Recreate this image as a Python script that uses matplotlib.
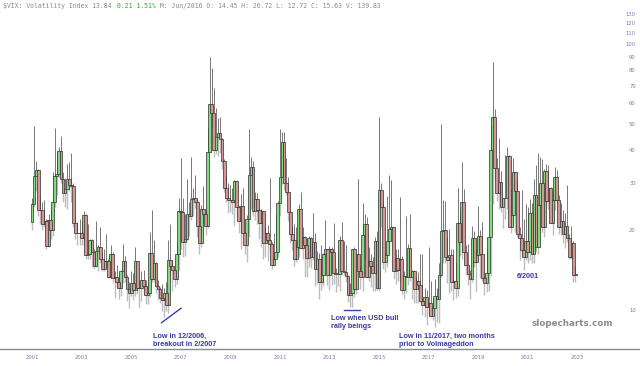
import matplotlib
matplotlib.use("Agg")
import matplotlib.pyplot as plt
from matplotlib.lines import Line2D
import numpy as np

# Monthly VIX candles, Aug 2001 .. Jul 2023
opens = [
    21.5, 25.0, 31.9, 33.6, 23.8,
    23.8, 21.1, 21.6, 17.4, 21.9, 20.0, 25.4, 32.0, 32.6, 39.7, 31.1, 27.5,
    28.6, 31.2, 29.6, 29.2, 21.2, 19.5, 19.5, 19.5, 18.6, 22.7, 16.1, 16.3,
    18.3, 16.6, 14.6, 16.7, 17.2, 15.5, 14.3, 15.3, 15.3, 13.3, 16.3, 13.2,
    13.3, 12.8, 12.1, 14.0, 15.3, 13.3, 12.0, 11.6, 12.6, 11.9, 15.3, 12.1,
    12.1, 13.0, 12.3, 11.4, 11.6, 16.4, 13.1, 15.0, 12.3, 12.0, 11.1, 10.9,
    11.6, 10.4, 15.4, 14.6, 14.2, 13.1, 16.2, 23.5, 23.4, 18.0, 18.5, 22.9,
    22.5, 26.2, 26.5, 25.6, 20.8, 17.8, 24.0, 22.9, 20.7, 39.4, 59.9, 55.3,
    40.0, 44.8, 46.4, 44.1, 36.5, 28.9, 26.4, 25.9, 26.0, 25.6, 30.7, 24.5,
    21.7, 24.6, 19.5, 17.6, 22.1, 32.1, 34.5, 23.5, 26.1, 23.7, 21.2, 23.5,
    17.8, 19.5, 18.4, 17.7, 14.8, 15.5, 16.5, 25.3, 31.6, 43.0, 30.0, 27.8,
    23.4, 19.4, 18.4, 15.5, 17.2, 24.1, 17.1, 18.9, 17.5, 15.7, 18.6, 15.9,
    18.0, 14.3, 15.5, 12.7, 13.5, 16.3, 16.9, 13.5, 17.0, 16.6, 13.8, 13.7,
    13.7, 18.4, 14.0, 13.9, 13.4, 11.4, 11.6, 17.0, 12.0, 16.3, 14.0, 13.3,
    19.2, 21.0, 13.3, 15.3, 14.6, 13.8, 18.2, 12.1, 28.4, 24.5, 15.1, 16.1,
    18.2, 20.2, 20.6, 14.0, 15.7, 14.2, 15.6, 11.9, 13.4, 13.3, 17.1, 13.3,
    14.0, 12.0, 12.9, 12.4, 10.8, 10.4, 11.2, 10.3, 10.6, 9.5, 10.2, 11.3,
    11.0, 13.5, 19.9, 20.0, 15.9, 15.4, 16.1, 12.8, 12.9, 12.1, 21.2, 18.1,
    25.4, 16.6, 14.8, 13.7, 13.1, 18.7, 15.1, 16.1, 19.0, 16.2, 13.2, 12.6,
    13.8, 18.8, 40.1, 53.5, 34.2, 27.5, 30.4, 24.5, 26.4, 26.4, 38.0, 20.6,
    22.8, 33.1, 28.0, 19.4, 18.6, 16.8, 15.8, 18.2, 16.5, 23.1, 16.3, 27.2,
    17.2, 24.8, 30.2, 20.6, 33.4, 25.7, 28.7, 21.3, 25.9, 31.6, 25.9, 20.6,
    21.7, 19.4, 20.7, 18.7, 15.8, 17.9, 13.6,
]
highs = [
    26.5, 49.4, 36.5, 34.0, 26.5,
    25.5, 26.0, 22.0, 23.0, 24.0, 33.0, 48.5, 39.5, 41.0, 45.1, 33.0, 31.5,
    35.6, 36.0, 39.0, 30.0, 22.5, 21.5, 22.0, 21.5, 23.5, 23.0, 21.0, 18.5,
    18.5, 17.0, 21.6, 17.5, 20.5, 16.5, 17.0, 19.3, 15.5, 17.5, 16.5, 14.0,
    14.8, 13.5, 14.2, 17.7, 16.0, 13.5, 12.8, 14.0, 13.8, 17.2, 15.3, 12.8,
    14.0, 14.2, 13.0, 12.8, 19.6, 23.8, 18.3, 15.2, 13.0, 12.2, 12.5, 12.1,
    12.8, 18.3, 21.0, 15.4, 14.2, 17.9, 26.5, 37.5, 26.5, 23.0, 31.1, 25.5,
    37.6, 28.8, 32.2, 26.1, 21.0, 24.8, 29.3, 23.7, 48.4, 89.5, 81.5, 68.6,
    57.4, 52.7, 53.2, 44.3, 36.9, 32.3, 30.0, 29.6, 28.9, 31.0, 29.1, 24.0,
    27.3, 28.8, 19.9, 22.8, 48.2, 37.6, 36.4, 27.8, 27.5, 23.9, 24.0, 23.3,
    20.5, 20.9, 31.3, 18.0, 19.5, 23.0, 25.7, 48.0, 46.9, 46.9, 37.2, 31.6,
    23.6, 20.8, 21.1, 20.5, 25.1, 27.7, 20.5, 19.0, 18.5, 19.0, 18.9, 23.2,
    19.5, 16.7, 16.4, 17.5, 16.4, 21.9, 17.0, 17.4, 17.3, 21.3, 14.4, 16.8,
    19.0, 21.5, 18.2, 17.6, 13.6, 12.6, 17.0, 17.2, 16.3, 31.1, 14.7, 25.2,
    23.0, 22.4, 17.2, 16.3, 15.9, 18.9, 19.9, 53.3, 30.0, 25.5, 16.5, 26.8,
    32.1, 30.9, 20.0, 16.9, 16.9, 26.7, 16.0, 14.0, 22.5, 17.7, 23.0, 14.2,
    14.2, 13.2, 13.9, 16.3, 16.3, 12.1, 11.9, 17.3, 12.9, 11.0, 13.1, 12.1,
    15.0, 50.3, 26.0, 25.7, 18.8, 20.1, 16.9, 16.9, 15.0, 28.8, 23.8, 36.2,
    28.5, 17.5, 17.7, 14.1, 20.7, 19.9, 17.0, 24.6, 20.0, 21.5, 13.5, 17.0,
    19.0, 49.5, 85.5, 57.1, 37.2, 44.4, 33.3, 26.4, 38.3, 41.2, 38.3, 28.6,
    37.5, 31.2, 31.2, 20.6, 28.4, 22.0, 25.1, 24.5, 26.2, 25.3, 31.1, 35.3,
    38.9, 37.8, 37.0, 34.0, 35.5, 35.1, 29.0, 27.7, 34.5, 33.6, 27.2, 25.2,
    23.8, 23.2, 29.6, 19.3, 20.8, 18.2, 14.7,
]
lows = [
    20.0, 24.5, 28.0, 22.5, 21.0,
    20.0, 20.5, 17.0, 17.3, 18.5, 19.0, 24.5, 27.0, 31.5, 30.0, 25.5, 24.5,
    24.0, 28.0, 25.5, 20.5, 18.5, 17.5, 17.5, 17.5, 17.5, 15.5, 15.5, 15.5,
    14.5, 14.3, 14.5, 14.0, 15.0, 14.0, 14.0, 14.5, 13.2, 13.5, 12.6, 11.1,
    12.2, 11.0, 11.3, 12.6, 12.7, 10.8, 10.2, 11.3, 10.9, 11.3, 11.5, 10.2,
    10.8, 11.6, 10.5, 10.5, 11.2, 12.8, 12.7, 11.6, 10.9, 10.6, 9.9, 9.4,
    9.9, 9.7, 12.7, 11.8, 12.2, 12.5, 14.2, 17.0, 15.9, 16.0, 18.2, 19.0,
    21.8, 22.6, 24.2, 18.9, 16.3, 17.2, 21.3, 19.1, 20.4, 39.2, 48.7, 37.8,
    38.8, 37.9, 38.9, 33.9, 27.8, 25.6, 23.1, 23.4, 22.9, 20.7, 22.5, 19.5,
    16.9, 19.3, 16.2, 15.2, 18.8, 24.0, 22.6, 21.9, 21.0, 18.5, 17.2, 15.5,
    15.9, 15.3, 16.6, 14.3, 14.6, 15.5, 15.8, 22.5, 29.8, 28.4, 27.2, 21.6,
    17.9, 16.8, 14.6, 15.1, 15.9, 17.0, 15.5, 13.3, 13.3, 14.5, 14.4, 15.4,
    12.3, 12.5, 11.0, 11.9, 12.3, 15.5, 12.4, 11.9, 12.4, 12.5, 11.7, 12.3,
    11.8, 13.6, 13.6, 12.8, 10.7, 10.3, 10.3, 11.2, 11.5, 14.0, 12.0, 11.8,
    15.5, 13.3, 12.9, 12.2, 11.8, 11.8, 11.9, 11.8, 20.5, 14.3, 13.9, 14.5,
    16.6, 18.2, 13.1, 12.5, 12.9, 12.7, 11.5, 11.0, 11.6, 12.4, 12.9, 11.0,
    10.6, 10.6, 10.6, 10.7, 9.6, 9.4, 8.8, 9.5, 9.4, 9.2, 8.6, 9.0,
    8.9, 13.3, 15.0, 15.0, 12.6, 11.6, 11.8, 10.9, 11.1, 11.3, 16.0, 15.6,
    16.6, 13.5, 12.4, 11.0, 12.7, 14.5, 11.7, 15.6, 13.2, 12.9, 11.4, 11.7,
    11.8, 13.4, 25.1, 31.2, 25.8, 24.0, 23.3, 20.3, 22.1, 24.0, 20.5, 19.5,
    21.0, 19.6, 18.9, 15.4, 16.3, 14.1, 15.4, 15.0, 15.4, 15.0, 15.0, 16.6,
    16.3, 19.5, 19.6, 18.8, 25.1, 24.0, 21.2, 19.1, 23.8, 25.2, 19.3, 19.2,
    17.9, 17.1, 18.0, 15.6, 15.6, 12.7, 12.7,
]
closes = [
    25.0, 31.9, 33.6, 23.8, 23.8,
    21.1, 21.6, 17.4, 21.9, 20.0, 25.4, 32.0, 32.6, 39.7, 31.1, 27.5, 28.6,
    31.2, 29.6, 29.2, 21.2, 19.5, 19.5, 19.5, 18.6, 22.7, 16.1, 16.3, 18.3,
    16.6, 14.6, 16.7, 17.2, 15.5, 14.3, 15.3, 15.3, 13.3, 16.3, 13.2, 13.3,
    12.8, 12.1, 14.0, 15.3, 13.3, 12.0, 11.6, 12.6, 11.9, 15.3, 12.1, 12.1,
    13.0, 12.3, 11.4, 11.6, 16.4, 13.1, 15.0, 12.3, 12.0, 11.1, 10.9, 11.6,
    10.4, 15.4, 14.6, 14.2, 13.1, 16.2, 23.5, 23.4, 18.0, 18.5, 22.9, 22.5,
    26.2, 26.5, 25.6, 20.8, 17.8, 24.0, 22.9, 20.7, 39.4, 59.9, 55.3, 40.0,
    44.8, 46.4, 44.1, 36.5, 28.9, 26.4, 25.9, 26.0, 25.6, 30.7, 24.5, 21.7,
    24.6, 19.5, 17.6, 22.1, 32.1, 34.5, 23.5, 26.1, 23.7, 21.2, 23.5, 17.8,
    19.5, 18.4, 17.7, 14.8, 15.5, 16.5, 25.3, 31.6, 43.0, 30.0, 27.8, 23.4,
    19.4, 18.4, 15.5, 17.2, 24.1, 17.1, 18.9, 17.5, 15.7, 18.6, 15.9, 18.0,
    14.3, 15.5, 12.7, 13.5, 16.3, 16.9, 13.5, 17.0, 16.6, 13.8, 13.7, 13.7,
    18.4, 14.0, 13.9, 13.4, 11.4, 11.6, 17.0, 12.0, 16.3, 14.0, 13.3, 19.2,
    21.0, 13.3, 15.3, 14.6, 13.8, 18.2, 12.1, 28.4, 24.5, 15.1, 16.1, 18.2,
    20.2, 20.6, 14.0, 15.7, 14.2, 15.6, 11.9, 13.4, 13.3, 17.1, 13.3, 14.0,
    12.0, 12.9, 12.4, 10.8, 10.4, 11.2, 10.3, 10.6, 9.5, 10.2, 11.3, 11.0,
    13.5, 19.9, 20.0, 15.9, 15.4, 16.1, 12.8, 12.9, 12.1, 21.2, 18.1, 25.4,
    16.6, 14.8, 13.7, 13.1, 18.7, 15.1, 16.1, 19.0, 16.2, 13.2, 12.6, 13.8,
    18.8, 40.1, 53.5, 34.2, 27.5, 30.4, 24.5, 26.4, 26.4, 38.0, 20.6, 22.8,
    33.1, 28.0, 19.4, 18.6, 16.8, 15.8, 18.2, 16.5, 23.1, 16.3, 27.2, 17.2,
    24.8, 30.2, 20.6, 33.4, 25.7, 28.7, 21.3, 25.9, 31.6, 25.9, 20.6, 21.7,
    19.4, 20.7, 18.7, 15.8, 17.9, 13.6, 13.6,
]
year_labels = ["2001", "2003", "2005", "2007", "2009", "2011",
               "2013", "2015", "2017", "2019", "2021", "2023"]
y_ticks = [10, 20, 30, 40, 50, 60, 70, 80, 90, 100, 110, 120, 130]

W, H = 640, 366
fig = plt.figure(figsize=(6.4, 3.66), dpi=100)
fig.patch.set_facecolor("white")
ax = fig.add_axes([0, 17 / H, 1, 349 / H])
ax.set_facecolor("white")

o = np.array(opens); h = np.array(highs); l = np.array(lows); c = np.array(closes)
x = np.arange(len(c))
up = c >= o

# wicks
ax.vlines(x, l, np.minimum(o, c), color="#bdbdbd", lw=1.0, zorder=1)
ax.vlines(x, np.maximum(o, c), h, color="#777777", lw=0.7, zorder=1)
# bodies
bottom = np.minimum(o, c)
height = np.maximum(np.abs(c - o), 0.02)
ax.bar(x[up], height[up], bottom=bottom[up], width=1.35,
       color="#7fdc7f", edgecolor="#2e2e2e", linewidth=0.5, zorder=2)
ax.bar(x[~up], height[~up], bottom=bottom[~up], width=1.35,
       color="#d99595", edgecolor="#2e2e2e", linewidth=0.5, zorder=2)

ax.set_yscale("log")
ax.set_ylim(7.13, 147)
ax.set_xlim(-15.49, 294.3)

for s in ["top", "left", "right"]:
    ax.spines[s].set_visible(False)
ax.spines["bottom"].set_color("#8a8a8a")
ax.spines["bottom"].set_linewidth(1.0)

ax.yaxis.tick_right()
ax.set_yticks(y_ticks)
ax.set_yticklabels([str(v) for v in y_ticks])
ax.yaxis.set_minor_locator(matplotlib.ticker.NullLocator())
ax.tick_params(axis="y", length=0, pad=-3, labelsize=3.8, labelcolor="#7a7ab0")
for lbl in ax.get_yticklabels():
    lbl.set_horizontalalignment("right")

ax.set_xticks(np.arange(len(year_labels)) * 24)
ax.set_xticklabels(year_labels)
ax.tick_params(axis="x", length=0, pad=4, labelsize=3.8, labelcolor="#7a7ab0")

# header
def fx(px):
    return px / W

def fy(py):
    return 1 - py / H

hdr_font = dict(family="DejaVu Sans Mono", fontsize=4.7, va="center")
cw = 0.602 * 4.7 * 100 / 72
p1 = "$VIX: Volatility Index 13.84 "
p2 = "0.21 1.51%"
p3 = " M: Jun/2016 O: 14.45 H: 26.72 L: 12.72 C: 15.63 V: 139.83"
fig.text(fx(3), fy(6), p1, color="#8a8a8a", **hdr_font)
fig.text(fx(3 + len(p1) * cw), fy(6), p2, color="#3aa33a", **hdr_font)
fig.text(fx(3 + (len(p1) + len(p2)) * cw), fy(6), p3, color="#8a8a8a", **hdr_font)

ann = dict(fontsize=5.2, fontweight="bold", color="#3b3b9e",
           family="Liberation Sans", va="center", ha="left")
fig.text(fx(153), fy(336.5), "Low in 12/2006,", **ann)
fig.text(fx(153), fy(345), "breakout in 2/2007", **ann)
fig.text(fx(331), fy(318), "Low when USD bull", **ann)
fig.text(fx(331), fy(326.5), "rally beings", **ann)
fig.text(fx(399), fy(336.5), "Low in 11/2017, two months", **ann)
fig.text(fx(399), fy(345), "prior to Volmageddon", **ann)
fig.text(fx(517), fy(277), "6/2001", **ann)

fig.text(fx(532), fy(324), "slopecharts.com", fontsize=6.3, fontweight="bold",
         color="#8c8c8c", family="DejaVu Sans", va="center", ha="left")

fig.add_artist(Line2D([fx(161.5), fx(181)], [fy(322.7), fy(308.3)],
                      color="#3344aa", lw=1.0, transform=fig.transFigure))
fig.add_artist(Line2D([fx(344), fx(360)], [fy(309.7), fy(309.7)],
                      color="#3344aa", lw=1.0, transform=fig.transFigure))

fig.savefig("out.png", dpi=100, facecolor="white")
